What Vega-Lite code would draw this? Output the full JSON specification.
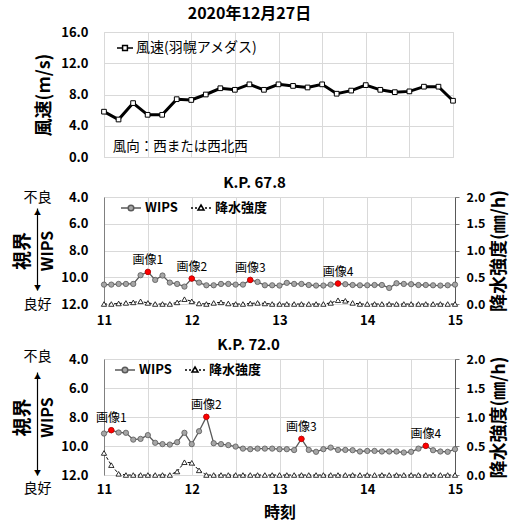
{
  "$schema": "https://vega.github.io/schema/vega-lite/v6.json",
  "padding": {"left": 12, "top": 5, "right": 2, "bottom": 0},
  "bounds": "flush",
  "spacing": 0,
  "resolve": {
    "scale": {"shape": "independent", "fill": "independent", "stroke": "independent"},
    "legend": {"shape": "independent", "fill": "independent", "stroke": "independent"}
  },
  "config": {
    "font": "Noto Sans CJK JP",
    "view": {"stroke": "#d9d9d9"},
    "axis": {"labelFont": "Noto Sans CJK JP", "labelFontWeight": "bold", "labelFontSize": 13, "labelColor": "#000", "titleColor": "#000", "titleFont": "Noto Sans CJK JP", "gridColor": "#d9d9d9", "ticks": false, "domainColor": "#808080", "labelFlush": false},
    "title": {"font": "Noto Sans CJK JP", "fontWeight": "bold", "color": "#000", "anchor": "middle", "frame": "group"},
    "legend": {"labelFont": "Noto Sans CJK JP", "labelColor": "#000"}
  },
  "vconcat": [
    {
      "width": 349,
      "height": 125,
      "title": {"text": "2020年12月27日", "fontSize": 16, "offset": 4, "dx": -29},
      "data": {"values": [
        {"m": 660, "wind": 5.8}, {"m": 670, "wind": 4.8}, {"m": 680, "wind": 6.9}, {"m": 690, "wind": 5.4},
        {"m": 700, "wind": 5.4}, {"m": 710, "wind": 7.4}, {"m": 720, "wind": 7.3}, {"m": 730, "wind": 8.0},
        {"m": 740, "wind": 8.8}, {"m": 750, "wind": 8.6}, {"m": 760, "wind": 9.3}, {"m": 770, "wind": 8.6},
        {"m": 780, "wind": 9.3}, {"m": 790, "wind": 9.1}, {"m": 800, "wind": 8.9}, {"m": 810, "wind": 9.3},
        {"m": 820, "wind": 8.1}, {"m": 830, "wind": 8.5}, {"m": 840, "wind": 9.2}, {"m": 850, "wind": 8.6},
        {"m": 860, "wind": 8.3}, {"m": 870, "wind": 8.4}, {"m": 880, "wind": 9.0}, {"m": 890, "wind": 9.0},
        {"m": 900, "wind": 7.2}
      ]},
      "encoding": {
        "x": {"field": "m", "type": "quantitative", "scale": {"domain": [660, 900], "nice": false, "zero": false},
              "axis": {"values": [660, 690, 720, 750, 780, 810, 840, 870, 900], "labels": false, "domain": false, "grid": true, "title": null}},
        "y": {"field": "wind", "type": "quantitative", "scale": {"domain": [0, 16], "nice": false},
              "axis": {"values": [0, 4, 8, 12, 16], "format": ".1f", "domain": false, "labelPadding": 16, "title": "風速(m/s)", "titleFontSize": 18, "titleFontWeight": "bold", "titlePadding": 7}}
      },
      "layer": [
        {"mark": {"type": "line", "color": "#000", "strokeWidth": 3}},
        {"mark": {"type": "point", "shape": "square", "filled": true, "fill": "#fff", "stroke": "#000", "strokeWidth": 1, "size": 22, "opacity": 1}},
        {
          "data": {"values": [{"m": 666, "wind": 1.3, "label": "風向：西または西北西"}]},
          "mark": {"type": "text", "align": "left", "baseline": "middle", "fontSize": 13.5, "color": "#000"},
          "encoding": {"text": {"field": "label"}}
        },
        {
          "data": {"values": []},
          "mark": {"type": "point", "strokeWidth": 2.5, "opacity": 1},
          "encoding": {
            "shape": {"field": "series", "type": "nominal", "scale": {"domain": ["風速(羽幌アメダス)"], "range": ["M-1,0H-0.3M0.3,0H1M-0.3,-0.3H0.3V0.3H-0.3Z"]},
                      "legend": {"orient": "none", "legendX": 12, "legendY": 7, "title": null, "symbolSize": 256, "labelFontSize": 14, "labelOffset": 2, "padding": 0}},
            "fill": {"field": "series", "type": "nominal", "scale": {"domain": ["風速(羽幌アメダス)"], "range": ["#fff"]},
                      "legend": {"orient": "none", "legendX": 12, "legendY": 7, "title": null, "symbolSize": 256, "labelFontSize": 14, "labelOffset": 2, "padding": 0}},
            "stroke": {"field": "series", "type": "nominal", "scale": {"domain": ["風速(羽幌アメダス)"], "range": ["#000"]},
                      "legend": {"orient": "none", "legendX": 12, "legendY": 7, "title": null, "symbolSize": 256, "labelFontSize": 14, "labelOffset": 2, "padding": 0}}
          }
        }
      ]
    },
    {"width": 349, "height": 40, "data": {"values": []}, "mark": "point", "view": {"stroke": null}},
    {
      "width": 351,
      "height": 107,
      "title": {"text": "K.P. 67.8", "fontSize": 15, "offset": -2, "dx": -25},
      "data": {"values": [
        {"m": 660, "wips": 10.55, "rain": 0}, {"m": 665, "wips": 10.55, "rain": 0}, {"m": 670, "wips": 10.5, "rain": 0.01},
        {"m": 675, "wips": 10.5, "rain": 0.02}, {"m": 680, "wips": 10.5, "rain": 0.03}, {"m": 685, "wips": 9.85, "rain": 0.05},
        {"m": 690, "wips": 9.6, "rain": 0.02, "img": "画像1"}, {"m": 695, "wips": 10.2, "rain": 0}, {"m": 700, "wips": 9.87, "rain": 0},
        {"m": 705, "wips": 10.4, "rain": 0}, {"m": 710, "wips": 10.5, "rain": 0.03}, {"m": 715, "wips": 10.7, "rain": 0.09},
        {"m": 720, "wips": 10.1, "rain": 0.05, "img": "画像2"}, {"m": 725, "wips": 10.4, "rain": 0.01}, {"m": 730, "wips": 10.6, "rain": 0},
        {"m": 735, "wips": 10.6, "rain": 0.02}, {"m": 740, "wips": 10.5, "rain": 0.03}, {"m": 745, "wips": 10.5, "rain": 0.01},
        {"m": 750, "wips": 10.55, "rain": 0}, {"m": 755, "wips": 10.55, "rain": 0}, {"m": 760, "wips": 10.2, "rain": 0.01, "img": "画像3"},
        {"m": 765, "wips": 10.35, "rain": 0.02}, {"m": 770, "wips": 10.6, "rain": 0.01}, {"m": 775, "wips": 10.6, "rain": 0},
        {"m": 780, "wips": 10.62, "rain": 0}, {"m": 785, "wips": 10.42, "rain": 0}, {"m": 790, "wips": 10.5, "rain": 0},
        {"m": 795, "wips": 10.5, "rain": 0}, {"m": 800, "wips": 10.58, "rain": 0}, {"m": 805, "wips": 10.62, "rain": 0},
        {"m": 810, "wips": 10.62, "rain": 0}, {"m": 815, "wips": 10.55, "rain": 0.02}, {"m": 820, "wips": 10.47, "rain": 0.07, "img": "画像4"},
        {"m": 825, "wips": 10.52, "rain": 0.06}, {"m": 830, "wips": 10.58, "rain": 0.02}, {"m": 835, "wips": 10.6, "rain": 0},
        {"m": 840, "wips": 10.6, "rain": 0}, {"m": 845, "wips": 10.58, "rain": 0}, {"m": 850, "wips": 10.58, "rain": 0},
        {"m": 855, "wips": 10.8, "rain": 0}, {"m": 860, "wips": 10.45, "rain": 0}, {"m": 865, "wips": 10.5, "rain": 0},
        {"m": 870, "wips": 10.52, "rain": 0}, {"m": 875, "wips": 10.58, "rain": 0}, {"m": 880, "wips": 10.58, "rain": 0},
        {"m": 885, "wips": 10.6, "rain": 0}, {"m": 890, "wips": 10.62, "rain": 0}, {"m": 895, "wips": 10.6, "rain": 0},
        {"m": 900, "wips": 10.55, "rain": 0}
      ]},
      "encoding": {
        "x": {"field": "m", "type": "quantitative", "scale": {"domain": [660, 900], "nice": false, "zero": false},
              "axis": {"values": [660, 690, 720, 750, 780, 810, 840, 870, 900], "labelExpr": "datum.value % 60 == 0 ? datum.value / 60 : ''", "labelPadding": 10, "labelFontSize": 13, "domain": false, "grid": true, "title": null}}
      },
      "layer": [
        {
          "encoding": {"y": {"field": "wips", "type": "quantitative", "scale": {"domain": [4, 12], "reverse": true, "nice": false, "zero": false},
              "axis": {"orient": "left", "values": [4, 6, 8, 10, 12], "format": ".1f", "labelPadding": 16, "grid": true, "domain": true, "title": "WIPS", "titleFontSize": 16, "titleFontWeight": "bold", "titlePadding": 5}}},
          "layer": [
            {"mark": {"type": "line", "color": "#595959", "strokeWidth": 1.3}},
            {"mark": {"type": "point", "shape": "circle", "filled": true, "fill": "#a6a6a6", "stroke": "#595959", "strokeWidth": 0.8, "size": 28, "opacity": 1}},
            {"transform": [{"filter": "datum.img != null"}], "mark": {"type": "point", "shape": "circle", "filled": true, "fill": "#ff0000", "stroke": "#c00000", "strokeWidth": 0.8, "size": 30, "opacity": 1}},
            {"transform": [{"filter": "datum.img != null"}], "mark": {"type": "text", "baseline": "bottom", "dy": -5, "fontSize": 12, "color": "#000"}, "encoding": {"text": {"field": "img"}}}
          ]
        },
        {
          "encoding": {"y": {"field": "rain", "type": "quantitative", "scale": {"domain": [0, 2], "nice": false},
              "axis": {"orient": "right", "values": [0, 0.5, 1, 1.5, 2], "format": ".1f", "ticks": true, "tickSize": 4, "tickColor": "#808080", "labelPadding": 7, "labelFontSize": 12.5, "grid": false, "domain": true, "domainColor": "#595959", "title": "降水強度(㎜/h)", "titleFontSize": 18, "titleFontWeight": "bold", "titleAngle": -90, "titleBaseline": "top", "titlePadding": 6}}},
          "layer": [
            {"mark": {"type": "line", "color": "#000", "strokeWidth": 1, "strokeDash": [3, 2]}},
            {"mark": {"type": "point", "shape": "triangle-up", "filled": true, "fill": "#fff", "stroke": "#000", "strokeWidth": 0.8, "size": 28, "opacity": 1}}
          ]
        },
        {
          "data": {"values": []},
          "mark": {"type": "point", "strokeWidth": 1.2, "opacity": 1},
          "encoding": {
            "y": {"field": "wips", "type": "quantitative", "scale": {"domain": [4, 12], "reverse": true, "nice": false, "zero": false},
                  "axis": {"orient": "left", "offset": 67, "values": [4, 12], "labelExpr": "datum.value == 4 ? '不良' : '良好'", "labelAlign": "center", "labelPadding": 0, "labelFontWeight": "normal", "labelFontSize": 14, "labelBaseline": "middle", "grid": false, "domain": false, "title": "視界", "titleFontSize": 19, "titleFontWeight": "bold", "titlePadding": -9}},
            "shape": {"field": "series", "type": "nominal", "scale": {"domain": ["WIPS", "降水強度"], "range": ["M-1,0H-0.28M0.28,0H1M0.28,0A0.28,0.28,0,1,1,-0.28,0A0.28,0.28,0,1,1,0.28,0Z", "M-1,0H-0.8M-0.6,0H-0.4M0.4,0H0.6M0.8,0H1M0,-0.3L0.3,0.2L-0.3,0.2Z"]},
                      "legend": {"orient": "none", "legendX": 16, "legendY": 0, "direction": "horizontal", "title": null, "symbolSize": 400, "labelFontSize": 13, "labelFontWeight": "bold", "labelOffset": 3, "columnPadding": 10, "padding": 0}},
            "fill": {"field": "series", "type": "nominal", "scale": {"domain": ["WIPS", "降水強度"], "range": ["#a6a6a6", "#fff"]},
                      "legend": {"orient": "none", "legendX": 16, "legendY": 0, "direction": "horizontal", "title": null, "symbolSize": 400, "labelFontSize": 13, "labelFontWeight": "bold", "labelOffset": 3, "columnPadding": 10, "padding": 0}},
            "stroke": {"field": "series", "type": "nominal", "scale": {"domain": ["WIPS", "降水強度"], "range": ["#595959", "#000"]},
                      "legend": {"orient": "none", "legendX": 16, "legendY": 0, "direction": "horizontal", "title": null, "symbolSize": 400, "labelFontSize": 13, "labelFontWeight": "bold", "labelOffset": 3, "columnPadding": 10, "padding": 0}}
          }
        },
        {
          "data": {"values": []},
          "mark": {"type": "point"},
          "encoding": {
            "y": {"field": "arrow", "type": "quantitative", "scale": {"domain": [0, 1], "range": [93, 11], "nice": false, "zero": false},
                  "axis": {"orient": "left", "offset": 67, "values": [0, 1], "labelExpr": "datum.value == 1 ? '▲' : '▼'", "labelAlign": "center", "labelPadding": 0, "labelFontSize": 7, "labelFontWeight": "normal", "labelBaseline": {"condition": {"test": "datum.value == 1", "value": "top"}, "value": "bottom"}, "grid": false, "domain": true, "domainColor": "#000", "domainWidth": 1.2, "title": null}}
          }
        }
      ],
      "resolve": {"scale": {"y": "independent"}, "axis": {"y": "independent"}}
    },
    {"width": 351, "height": 55, "data": {"values": []}, "mark": "point", "view": {"stroke": null}},
    {
      "width": 351,
      "height": 116,
      "title": {"text": "K.P. 72.0", "fontSize": 15, "offset": -4, "dx": -31},
      "data": {"values": [
        {"m": 660, "wips": 9.14, "rain": 0.38}, {"m": 665, "wips": 8.91, "rain": 0.17, "img": "画像1"}, {"m": 670, "wips": 9.07, "rain": 0.02},
        {"m": 675, "wips": 9.09, "rain": 0}, {"m": 680, "wips": 9.56, "rain": 0}, {"m": 685, "wips": 9.51, "rain": 0},
        {"m": 690, "wips": 9.25, "rain": 0}, {"m": 695, "wips": 9.78, "rain": 0}, {"m": 700, "wips": 9.87, "rain": 0},
        {"m": 705, "wips": 9.9, "rain": 0}, {"m": 710, "wips": 9.74, "rain": 0.06}, {"m": 715, "wips": 9.09, "rain": 0.22},
        {"m": 720, "wips": 9.87, "rain": 0.21}, {"m": 725, "wips": 8.98, "rain": 0.08}, {"m": 730, "wips": 7.99, "rain": 0, "img": "画像2"},
        {"m": 735, "wips": 9.81, "rain": 0}, {"m": 740, "wips": 9.87, "rain": 0}, {"m": 745, "wips": 9.94, "rain": 0},
        {"m": 750, "wips": 10.04, "rain": 0}, {"m": 755, "wips": 10.18, "rain": 0}, {"m": 760, "wips": 10.22, "rain": 0},
        {"m": 765, "wips": 10.18, "rain": 0}, {"m": 770, "wips": 10.18, "rain": 0}, {"m": 775, "wips": 10.18, "rain": 0},
        {"m": 780, "wips": 10.22, "rain": 0}, {"m": 785, "wips": 10.22, "rain": 0}, {"m": 790, "wips": 10.28, "rain": 0},
        {"m": 795, "wips": 9.51, "rain": 0, "img": "画像3"}, {"m": 800, "wips": 10.27, "rain": 0}, {"m": 805, "wips": 10.4, "rain": 0},
        {"m": 810, "wips": 10.22, "rain": 0}, {"m": 815, "wips": 10.11, "rain": 0}, {"m": 820, "wips": 10.27, "rain": 0},
        {"m": 825, "wips": 10.27, "rain": 0}, {"m": 830, "wips": 10.29, "rain": 0}, {"m": 835, "wips": 10.38, "rain": 0},
        {"m": 840, "wips": 10.34, "rain": 0}, {"m": 845, "wips": 10.34, "rain": 0}, {"m": 850, "wips": 10.38, "rain": 0},
        {"m": 855, "wips": 10.38, "rain": 0}, {"m": 860, "wips": 10.38, "rain": 0}, {"m": 865, "wips": 10.45, "rain": 0},
        {"m": 870, "wips": 10.4, "rain": 0}, {"m": 875, "wips": 10.18, "rain": 0}, {"m": 880, "wips": 9.99, "rain": 0, "img": "画像4"},
        {"m": 885, "wips": 10.29, "rain": 0}, {"m": 890, "wips": 10.38, "rain": 0}, {"m": 895, "wips": 10.4, "rain": 0},
        {"m": 900, "wips": 10.22, "rain": 0}
      ]},
      "encoding": {
        "x": {"field": "m", "type": "quantitative", "scale": {"domain": [660, 900], "nice": false, "zero": false},
              "axis": {"values": [660, 690, 720, 750, 780, 810, 840, 870, 900], "labelExpr": "datum.value % 60 == 0 ? datum.value / 60 : ''", "labelPadding": 8, "labelFontSize": 13, "domain": false, "grid": true, "title": "時刻", "titleFontSize": 16, "titleFontWeight": "bold", "titlePadding": 8}}
      },
      "layer": [
        {
          "encoding": {"y": {"field": "wips", "type": "quantitative", "scale": {"domain": [4, 12], "reverse": true, "nice": false, "zero": false},
              "axis": {"orient": "left", "values": [4, 6, 8, 10, 12], "format": ".1f", "labelPadding": 16, "grid": true, "domain": true, "title": "WIPS", "titleFontSize": 16, "titleFontWeight": "bold", "titlePadding": 5}}},
          "layer": [
            {"mark": {"type": "line", "color": "#595959", "strokeWidth": 1.3}},
            {"mark": {"type": "point", "shape": "circle", "filled": true, "fill": "#a6a6a6", "stroke": "#595959", "strokeWidth": 0.8, "size": 28, "opacity": 1}},
            {"transform": [{"filter": "datum.img != null"}], "mark": {"type": "point", "shape": "circle", "filled": true, "fill": "#ff0000", "stroke": "#c00000", "strokeWidth": 0.8, "size": 30, "opacity": 1}},
            {"transform": [{"filter": "datum.img != null"}], "mark": {"type": "text", "baseline": "bottom", "dy": -5, "fontSize": 12, "color": "#000"}, "encoding": {"text": {"field": "img"}}}
          ]
        },
        {
          "encoding": {"y": {"field": "rain", "type": "quantitative", "scale": {"domain": [0, 2], "nice": false},
              "axis": {"orient": "right", "values": [0, 0.5, 1, 1.5, 2], "format": ".1f", "ticks": true, "tickSize": 4, "tickColor": "#808080", "labelPadding": 7, "labelFontSize": 12.5, "grid": false, "domain": true, "domainColor": "#595959", "title": "降水強度(㎜/h)", "titleFontSize": 18, "titleFontWeight": "bold", "titleAngle": -90, "titleBaseline": "top", "titlePadding": 6}}},
          "layer": [
            {"mark": {"type": "line", "color": "#000", "strokeWidth": 1, "strokeDash": [3, 2]}},
            {"mark": {"type": "point", "shape": "triangle-up", "filled": true, "fill": "#fff", "stroke": "#000", "strokeWidth": 0.8, "size": 28, "opacity": 1}}
          ]
        },
        {
          "data": {"values": []},
          "mark": {"type": "point", "strokeWidth": 1.2, "opacity": 1},
          "encoding": {
            "y": {"field": "wips", "type": "quantitative", "scale": {"domain": [4, 12], "reverse": true, "nice": false, "zero": false},
                  "axis": {"orient": "left", "offset": 67, "values": [4, 12], "labelExpr": "datum.value == 4 ? '不良' : '良好'", "labelAlign": "center", "labelPadding": 0, "labelFontWeight": "normal", "labelFontSize": 14, "labelBaseline": "middle", "labelOffset": {"condition": {"test": "datum.value == 4", "value": -3}, "value": 13}, "grid": false, "domain": false, "title": "視界", "titleFontSize": 19, "titleFontWeight": "bold", "titlePadding": -9}},
            "shape": {"field": "series", "type": "nominal", "scale": {"domain": ["WIPS", "降水強度"], "range": ["M-1,0H-0.28M0.28,0H1M0.28,0A0.28,0.28,0,1,1,-0.28,0A0.28,0.28,0,1,1,0.28,0Z", "M-1,0H-0.8M-0.6,0H-0.4M0.4,0H0.6M0.8,0H1M0,-0.3L0.3,0.2L-0.3,0.2Z"]},
                      "legend": {"orient": "none", "legendX": 10, "legendY": 0, "direction": "horizontal", "title": null, "symbolSize": 400, "labelFontSize": 13, "labelFontWeight": "bold", "labelOffset": 3, "columnPadding": 10, "padding": 0}},
            "fill": {"field": "series", "type": "nominal", "scale": {"domain": ["WIPS", "降水強度"], "range": ["#a6a6a6", "#fff"]},
                      "legend": {"orient": "none", "legendX": 10, "legendY": 0, "direction": "horizontal", "title": null, "symbolSize": 400, "labelFontSize": 13, "labelFontWeight": "bold", "labelOffset": 3, "columnPadding": 10, "padding": 0}},
            "stroke": {"field": "series", "type": "nominal", "scale": {"domain": ["WIPS", "降水強度"], "range": ["#595959", "#000"]},
                      "legend": {"orient": "none", "legendX": 10, "legendY": 0, "direction": "horizontal", "title": null, "symbolSize": 400, "labelFontSize": 13, "labelFontWeight": "bold", "labelOffset": 3, "columnPadding": 10, "padding": 0}}
          }
        },
        {
          "data": {"values": []},
          "mark": {"type": "point"},
          "encoding": {
            "y": {"field": "arrow", "type": "quantitative", "scale": {"domain": [0, 1], "range": [116, 13], "nice": false, "zero": false},
                  "axis": {"orient": "left", "offset": 67, "values": [0, 1], "labelExpr": "datum.value == 1 ? '▲' : '▼'", "labelAlign": "center", "labelPadding": 0, "labelFontSize": 7, "labelFontWeight": "normal", "labelBaseline": {"condition": {"test": "datum.value == 1", "value": "top"}, "value": "bottom"}, "grid": false, "domain": true, "domainColor": "#000", "domainWidth": 1.2, "title": null}}
          }
        }
      ],
      "resolve": {"scale": {"y": "independent"}, "axis": {"y": "independent"}}
    }
  ]
}
